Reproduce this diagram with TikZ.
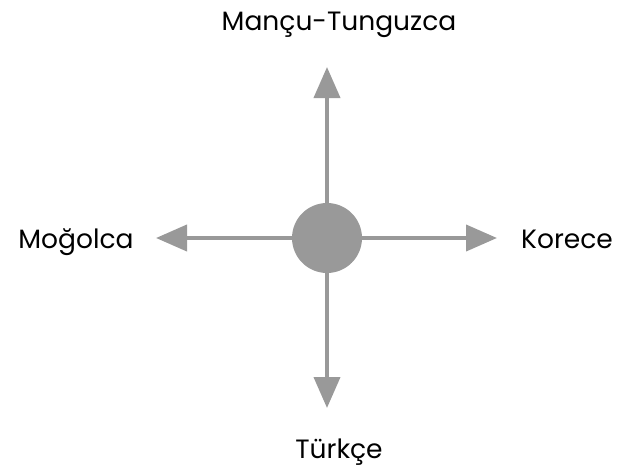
\documentclass[tikz,border=0pt]{standalone}
\usepackage{fontspec}
\setmainfont{Poppins}
\usetikzlibrary{arrows.meta}
\definecolor{armgray}{RGB}{153,153,153}
\begin{document}
\begin{tikzpicture}[x=1pt,y=-1pt,
  arm/.style={draw=armgray,line width=4pt,-{Triangle[length=31pt,width=26pt]}},
  hub/.style={circle,fill=armgray,minimum size=70pt,inner sep=0pt},
  lang/.style={font=\fontsize{26.5}{30}\selectfont,inner sep=0pt,anchor=base}]
  \useasboundingbox (0,0) rectangle (618,474);
  % central hub and the four arm tips
  \node[hub] (c) at (327,238) {};
  \coordinate (tn) at (327,67);
  \coordinate (ts) at (327,408);
  \coordinate (tw) at (156,238);
  \coordinate (te) at (497,238);
  \draw[arm] (c) -- (tn);
  \draw[arm] (c) -- (ts);
  \draw[arm] (c) -- (tw);
  \draw[arm] (c) -- (te);
  % language labels
  \node[lang] (mt) at (339,30) {Mançu-Tunguzca};
  \node[lang] (mg) at (76,248) {Moğolca};
  \node[lang] (ko) at (567,248) {Korece};
  \node[lang] (tr) at (339,458) {Türkçe};
\end{tikzpicture}
\end{document}
